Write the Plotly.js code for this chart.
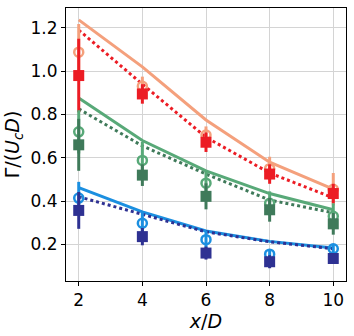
<!DOCTYPE html>
<html>
<head>
<meta charset="utf-8">
<script src="https://cdn.plot.ly/plotly-3.0.1.min.js"></script>
<style>
  html, body { margin: 0; padding: 0; background: #fff; }
  #chart { width: 354px; height: 336px; }
</style>
</head>
<body>
<div id="chart"></div>
<script>
// x positions (x/D)
const xD = [2, 4, 6, 8, 10];

// model curves
const orangeLine = [1.237, 1.02, 0.775, 0.58, 0.455];
const redDotted = [1.19, 0.94, 0.695, 0.53, 0.415];
const greenLine = [0.876, 0.68, 0.54, 0.435, 0.36];
const greenDotted = [0.826, 0.655, 0.525, 0.405, 0.346];
const blueLine = [0.462, 0.35, 0.262, 0.214, 0.183];
const blueDotted = [0.42, 0.34, 0.258, 0.212, 0.18];

// measured points with error bars
const orangeCirc = [1.088, 0.93, 0.705, 0.55, 0.455];
const orangeErr = [0.13, 0.045, 0.04, 0.055, 0.075];
const redSq = [0.98, 0.895, 0.672, 0.525, 0.435];
const redErr = [0.17, 0.045, 0.045, 0.045, 0.045];
const greenCirc = [0.72, 0.588, 0.483, 0.39, 0.33];
const greenErr = [0.1, 0.085, 0.055, 0.055, 0.06];
const dkGreenSq = [0.66, 0.52, 0.422, 0.36, 0.295];
const dkGreenErr = [0.12, 0.05, 0.06, 0.055, 0.05];
const blueCirc = [0.414, 0.298, 0.222, 0.155, 0.18];
const blueErr = [0.075, 0.055, 0.04, 0.02, 0.02];
const navySq = [0.357, 0.236, 0.16, 0.12, 0.135];
const navyErr = [0.085, 0.04, 0.03, 0.03, 0.02];

const cOrange = '#f4a07c';
const cRed = '#ec1c24';
const cGreen = '#58a978';
const cDkGreen = '#3f7a5a';
const cBlue = '#1b8fe0';
const cNavy = '#2e3192';

function line(y, color, dash) {
  return {x: xD, y: y, type: 'scatter', mode: 'lines',
    line: {color: color, width: 3, dash: dash}, hoverinfo: 'skip'};
}

function pts(y, err, color, symbol, size) {
  return {
    x: xD, y: y, type: 'scatter', mode: 'markers',
    marker: symbol === 'circle-open'
      ? {symbol: symbol, size: size, color: color, line: {color: color, width: 2.5}}
      : {symbol: symbol, size: size, color: color},
    error_y: {type: 'data', array: err, visible: true, color: color, thickness: 3, width: 0},
  };
}

const data = [
  line(orangeLine, cOrange, 'solid'),
  line(redDotted, cRed, 'dot'),
  line(greenLine, cGreen, 'solid'),
  line(greenDotted, cDkGreen, 'dot'),
  line(blueLine, cBlue, 'solid'),
  line(blueDotted, cNavy, 'dot'),
  pts(orangeCirc, orangeErr, cOrange, 'circle-open', 9),
  pts(redSq, redErr, cRed, 'square', 11),
  pts(greenCirc, greenErr, cGreen, 'circle-open', 9),
  pts(dkGreenSq, dkGreenErr, cDkGreen, 'square', 11),
  pts(blueCirc, blueErr, cBlue, 'circle-open', 9),
  pts(navySq, navyErr, cNavy, 'square', 11),
];

const axisFont = {family: 'DejaVu Sans', size: 17, color: '#000'};
const titleFont = {family: 'DejaVu Sans', size: 19, color: '#000'};

const layout = {
  width: 354,
  height: 336,
  margin: {l: 66, r: 8, t: 8, b: 55},
  paper_bgcolor: '#fff',
  plot_bgcolor: '#fff',
  showlegend: false,
  font: axisFont,
  xaxis: {
    range: [1.6, 10.4],
    tickvals: [2, 4, 6, 8, 10],
    ticks: 'outside', ticklen: 4, tickcolor: '#000',
    showgrid: true, gridcolor: '#d4d4d4', gridwidth: 1,
    showline: true, linecolor: '#000', linewidth: 1, mirror: true,
    zeroline: false,
    tickfont: axisFont,
    title: {text: '<i>x</i>/<i>D</i>', font: titleFont, standoff: 3},
  },
  yaxis: {
    range: [0.031, 1.292],
    tickvals: [0.2, 0.4, 0.6, 0.8, 1.0, 1.2],
    ticktext: ['0.2', '0.4', '0.6', '0.8', '1.0', '1.2'],
    ticks: 'outside', ticklen: 4, tickcolor: '#000',
    showgrid: true, gridcolor: '#d4d4d4', gridwidth: 1,
    showline: true, linecolor: '#000', linewidth: 1, mirror: true,
    zeroline: false,
    tickfont: axisFont,
    title: {text: 'Γ/(<i>U</i><sub><i>c</i></sub><i>D</i>)', font: titleFont, standoff: 5},
  },
};

Plotly.newPlot('chart', data, layout, {staticPlot: true});
</script>
</body>
</html>
